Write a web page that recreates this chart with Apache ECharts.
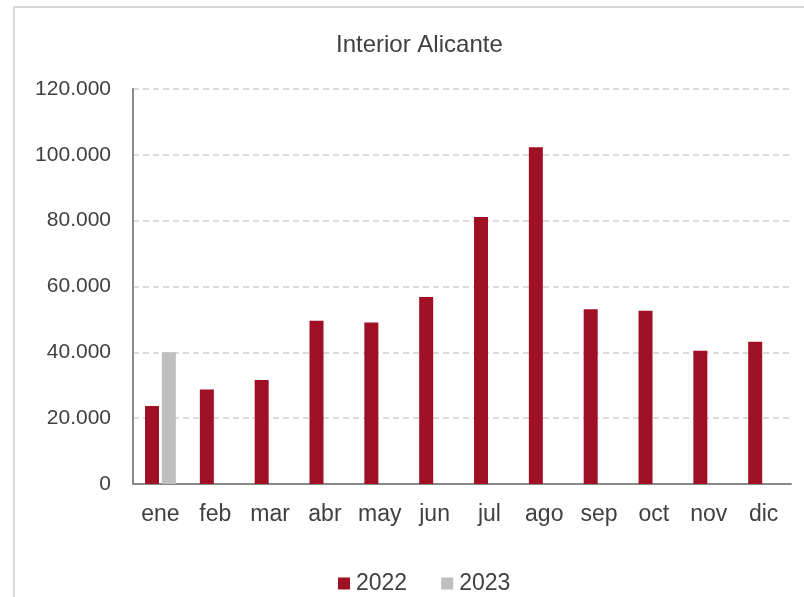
<!DOCTYPE html>
<html>
<head>
<meta charset="utf-8">
<script src="https://cdn.jsdelivr.net/npm/echarts@6/dist/echarts.min.js"></script>
<style>
html,body{margin:0;padding:0;background:#fff;}
#c{width:804px;height:597px;}
</style>
</head>
<body>
<div id="c"></div>
<script>
const categories = ['ene','feb','mar','abr','may','jun','jul','ago','sep','oct','nov','dic'];
const values2022 = [23700, 28700, 31600, 49600, 49100, 56800, 81100, 102300, 53100, 52600, 40500, 43200];
const values2023 = [40000, null, null, null, null, null, null, null, null, null, null, null];
const yTicks = { min: 0, max: 120000, interval: 20000 };

function fmt(v){
  return String(v).replace(/\B(?=(\d{3})+(?!\d))/g, '.');
}

const chart = echarts.init(document.getElementById('c'), null, {renderer:'canvas'});
const FONT = 'Liberation Sans, Arial, sans-serif';
chart.setOption({
  animation: false,
  backgroundColor: '#fff',
  graphic: [{
    type: 'rect',
    shape: { x: 14, y: 7, width: 820, height: 620 },
    style: { fill: 'none', stroke: '#d9d9d9', lineWidth: 2 },
    silent: true
  }],
  title: {
    text: 'Interior Alicante',
    left: 331,
    top: 28,
    textStyle: { fontFamily: FONT, fontSize: 24, fontWeight: 'normal', color: '#404040' }
  },
  legend: {
    top: 567,
    left: 333,
    itemWidth: 12,
    itemHeight: 12,
    itemGap: 34,
    icon: 'rect',
    textStyle: { fontFamily: FONT, fontSize: 23, color: '#404040', padding: [0,0,0,1] },
    data: ['2022','2023']
  },
  grid: { left: 133, right: 13, top: 89, bottom: 113, containLabel: false },
  xAxis: {
    type: 'category',
    data: categories,
    axisLine: { lineStyle: { color: '#898989', width: 2 } },
    axisTick: { show: false },
    axisLabel: { interval: 0, hideOverlap: false, fontFamily: FONT, fontSize: 23, color: '#404040', margin: 19 }
  },
  yAxis: {
    type: 'value',
    min: yTicks.min, max: yTicks.max, interval: yTicks.interval,
    axisLine: { show: true, lineStyle: { color: '#898989', width: 2 } },
    axisTick: { show: false },
    splitLine: { lineStyle: { color: '#d0d0d0', type: [6,4], width: 1.5 } },
    axisLabel: { fontFamily: FONT, fontSize: 21, color: '#404040', margin: 22, formatter: fmt }
  },
  series: [
    { name: '2022', type: 'bar', data: values2022, barWidth: 14, barGap: '20%',
      itemStyle: { color: '#A01025' } },
    { name: '2023', type: 'bar', data: values2023, barWidth: 14, barGap: '20%',
      itemStyle: { color: '#BFBFBF' } }
  ]
});
</script>
</body>
</html>
